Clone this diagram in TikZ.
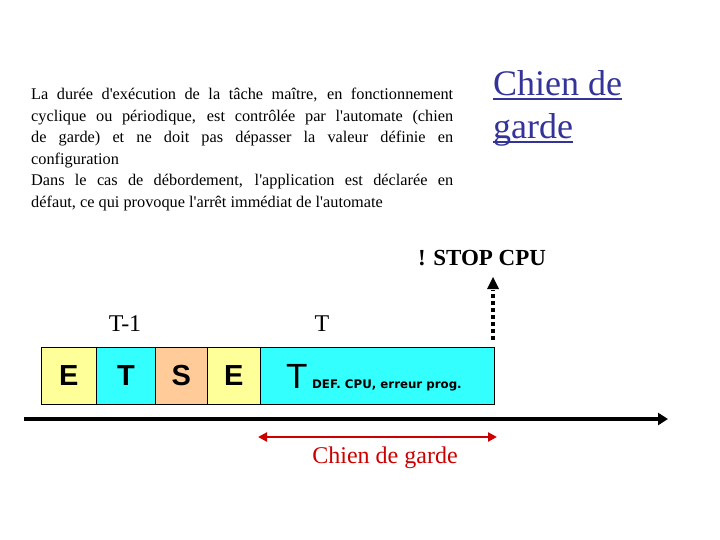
\documentclass[tikz,border=0pt]{standalone}
\usepackage{fontspec}
\setmainfont{Liberation Serif}[Ligatures=TeXOff]
\newfontfamily\arialf{Liberation Sans}
\newfontfamily\dejaf{DejaVu Sans}
\usetikzlibrary{arrows.meta}
\definecolor{ylw}{RGB}{255,255,153}
\definecolor{cyn}{RGB}{51,255,255}
\definecolor{org}{RGB}{255,204,153}
\definecolor{dblue}{RGB}{51,51,153}
\definecolor{dred}{RGB}{204,0,0}
\newcommand\thickul[1]{\setbox0\hbox{#1}\rlap{\rule[-5pt]{\wd0}{2.5pt}}\box0}
\tikzset{
  seg/.style={draw=black, line width=0.8pt, minimum height=57pt, inner sep=0pt, anchor=north west, font=\arialf\bfseries\fontsize{29}{29}\selectfont},
  lbl/.style={font=\fontsize{24}{28}\selectfont, inner sep=0pt}
}
\begin{document}
\begin{tikzpicture}[x=1pt,y=-1pt]
\useasboundingbox (0,0) rectangle (720,540);
% text block
\node[anchor=north west, inner sep=0pt, text width=422pt, align=justify,
      font=\fontsize{16.3}{21.5}\selectfont] (txt) at (31,88)
 {La durée d'exécution de la tâche maître, en fonctionnement cyclique ou périodique, est contrôlée par l'automate (chien\linebreak de garde) et ne doit pas dépasser la valeur définie en\linebreak configuration\par
 Dans le cas de débordement, l'application est déclarée en\linebreak défaut, ce qui provoque l'arrêt immédiat de l'automate};
% title
\node[anchor=north west, inner sep=0pt, align=left, text=dblue,
      font=\fontsize{36}{43}\selectfont] (title) at (493,70)
 {\thickul{Chien de}\\ \thickul{garde}};
% boxes
\node[seg, fill=ylw, minimum width=55pt] (e1) at (41,347) {E};
\node[seg, fill=cyn, minimum width=59pt] (t1) at (96,347) {T};
\node[seg, fill=org, minimum width=52pt] (s) at (155,347) {S};
\node[seg, fill=ylw, minimum width=53pt] (e2) at (207,347) {E};
\node[seg, fill=cyn, minimum width=234pt] (t2) at (260,347) {};
\node[anchor=base west, inner sep=0pt, font=\arialf\fontsize{35}{35}\selectfont] (tbig) at (286,388) {T};
\node[anchor=base west, inner sep=0pt, font=\dejaf\bfseries\fontsize{11.8}{12}\selectfont] (def) at (312,388) {DEF. CPU, erreur prog.};
% labels
\node[lbl] (tm1) at (125,324) {T-1};
\node[lbl] (tt) at (322,324) {T};
\node[lbl, font=\bfseries\fontsize{23}{28}\selectfont] (stop) at (482,258) {! STOP CPU};
% timeline
\coordinate (tl0) at (24,419);
\coordinate (tl1) at (668,419);
\draw[line width=4pt, -{Triangle[width=12pt,length=10pt]}] (tl0) -- (tl1);
% dotted stop arrow
\coordinate (sa0) at (493,340);
\coordinate (sa1) at (493,277);
\draw[line width=4pt, dash pattern=on 4pt off 3pt] (sa0) -- (493,290);
\fill (sa1) -- (499,289) -- (487,289) -- cycle;
% watchdog arrow
\coordinate (w0) at (258,437);
\coordinate (w1) at (497,437);
\draw[dred, line width=2.5pt, {Triangle[width=9pt,length=9pt]}-{Triangle[width=9pt,length=9pt]}] (w0) -- (w1);
\node[lbl, text=dred] (wd) at (385,458) {Chien de garde};
\end{tikzpicture}
\end{document}
